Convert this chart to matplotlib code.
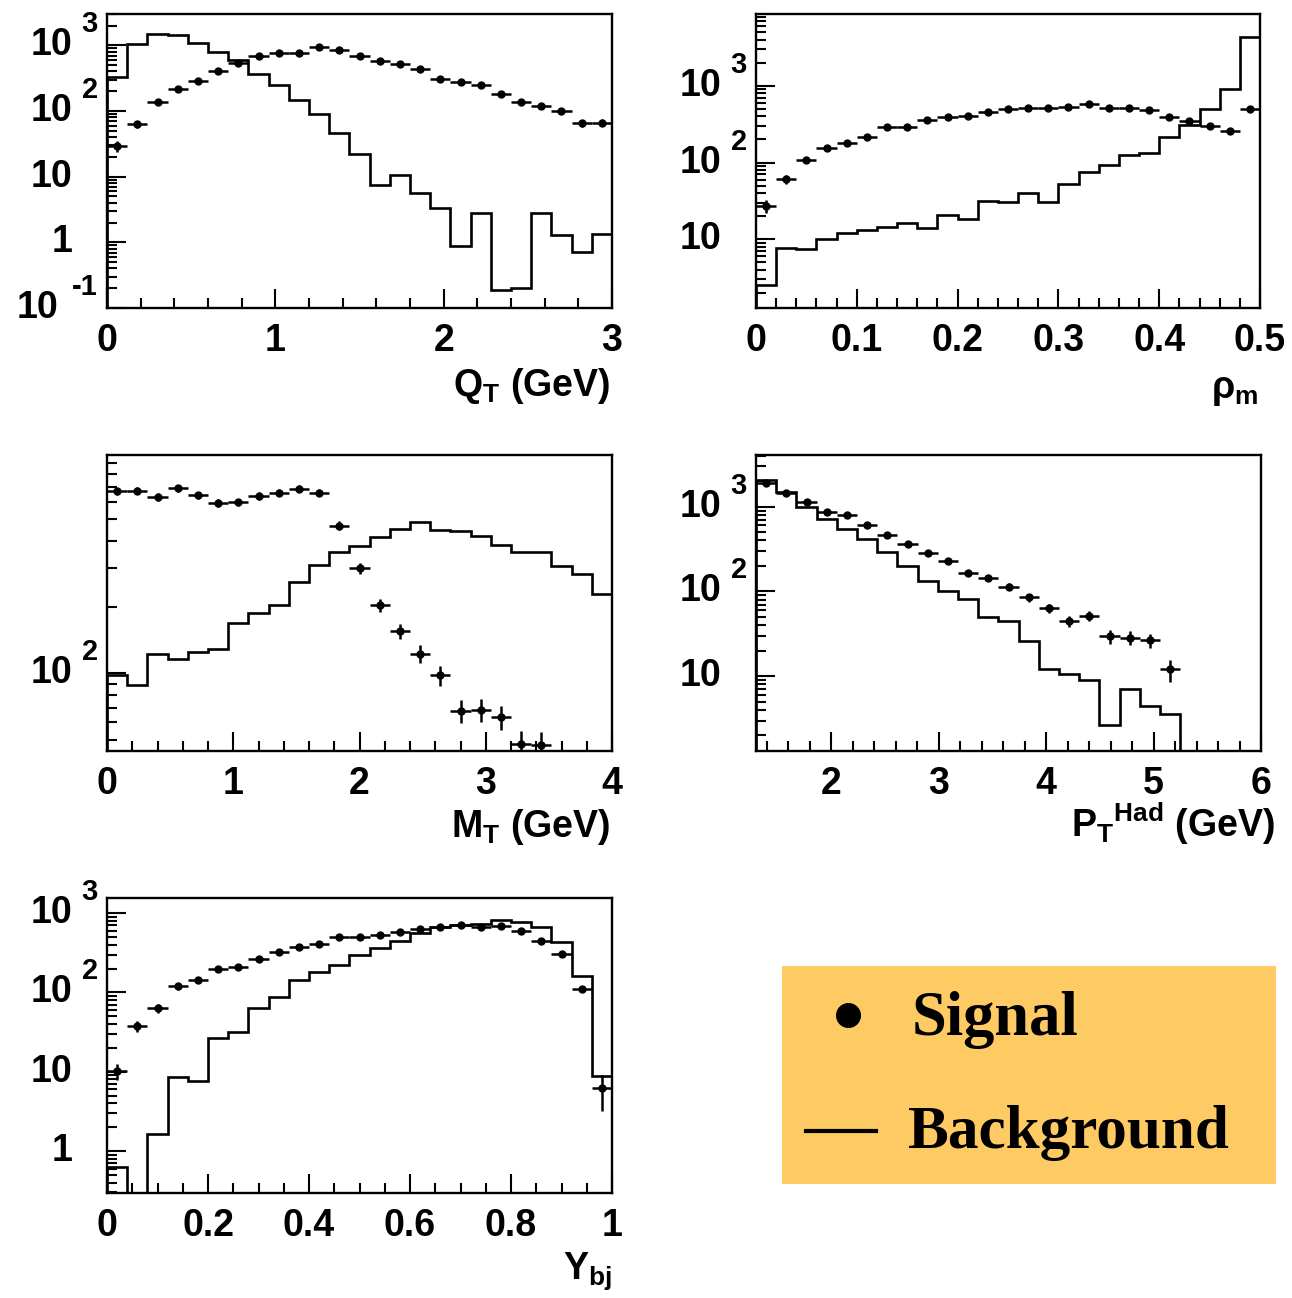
import matplotlib
matplotlib.use("Agg")
import matplotlib.pyplot as plt
import matplotlib.transforms as mtransforms
import numpy as np
from matplotlib.ticker import FixedLocator, LogLocator, MultipleLocator, NullFormatter

plt.rcParams["font.family"] = "Liberation Sans"
plt.rcParams["font.weight"] = "bold"
plt.rcParams["mathtext.fontset"] = "custom"
plt.rcParams["mathtext.rm"] = "Liberation Sans:bold"
plt.rcParams["mathtext.it"] = "Liberation Sans:bold"
plt.rcParams["mathtext.bf"] = "Liberation Sans:bold"

W, H = 1292, 1298
LABEL_SIZE = 27
EXP_SIZE = 21

# --- Q_T ---------------------------------------------------------------
qt_edges = np.linspace(0.0, 3.0, 26)
qt_bkg = [324, 1040, 1480, 1450, 1100, 805, 600, 363, 250, 146, 91, 47, 22.4,
          7.45, 10.6, 5.7, 3.36, 0.87, 2.75, 0.19, 0.2, 2.75, 1.3, 0.72, 1.35]
qt_sig = [29.3, 63, 137, 220, 288, 409, 535, 676, 751, 760, 948, 853, 691,
          568, 516, 443, 312, 281, 247, 184, 139, 119, 100, 65, 66.5]
qt_err = [5.4, 7.9, 11.7, 14.8, 17.0, 20.2, 23.1, 26.0, 27.4, 27.6, 30.8, 29.2,
          26.3, 23.8, 22.7, 21.0, 17.7, 16.8, 15.7, 13.6, 11.8, 10.9, 10.0, 8.1, 8.2]
qt_xticks = [0, 1, 2, 3]
qt_xlabels = ["0", "1", "2", "3"]

# --- rho_m -------------------------------------------------------------
rho_edges = np.linspace(0.0, 0.5, 26)
rho_bkg = [2.54, 7.6, 7.4, 10, 12, 13.2, 14.2, 16.2, 13.9, 20.7, 18.4, 31, 30.4,
           39.8, 30.4, 52, 76, 93, 124, 132, 218, 310, 496, 906, 4400]
rho_sig = [27, 61, 108, 154, 179, 218, 290, 295, 360, 390, 405, 454, 502, 512,
           512, 527, 582, 521, 512, 486, 390, 353, 301, 259, 496]
rho_err = [5.2, 7.8, 10.4, 12.4, 13.4, 14.8, 17.0, 17.2, 19.0, 19.7, 20.1, 21.3,
           22.4, 22.6, 22.6, 23.0, 24.1, 22.8, 22.6, 22.0, 19.7, 18.8, 17.3, 16.1, 22.3]
rho_xticks = [0, 0.1, 0.2, 0.3, 0.4, 0.5]
rho_xlabels = ["0", "0.1", "0.2", "0.3", "0.4", "0.5"]

# --- M_T ---------------------------------------------------------------
mt_edges = np.linspace(0.0, 4.0, 26)
mt_bkg = [98.3, 88.5, 122, 116, 125, 128.5, 170, 189, 204, 260, 310, 356, 379,
          415, 453, 489, 448, 445, 422, 383, 357, 357, 308, 282, 229]
mt_sig = [670, 676, 631, 693, 642, 593, 597, 640, 662, 689, 662, 469, 300, 204,
          156, 123, 98, 67.6, 68.3, 63.5, 48, 47.3]
mt_err = [25.9, 26.0, 25.1, 26.3, 25.3, 24.4, 24.4, 25.3, 25.7, 26.2, 25.7, 21.7,
          17.3, 14.3, 12.5, 11.1, 9.9, 8.2, 8.3, 8.0, 6.9, 6.9]
mt_xticks = [0, 1, 2, 3, 4]
mt_xlabels = ["0", "1", "2", "3", "4"]

# --- P_T hadron --------------------------------------------------------
pt_edges = np.linspace(1.3, 6.0, 26)
pt_bkg = [2065, 1476, 1000, 714, 539, 411, 289, 201, 132, 102, 81, 50, 44.6,
          25.9, 12.3, 10.5, 9.1, 2.64, 7.1, 4.47, 3.56, 0, 0, 0, 0]
pt_sig = [1888, 1435, 1145, 873, 798, 607, 463, 362, 281, 230, 163, 143, 114,
          85, 63, 45, 51.6, 29.6, 28.6, 26.6, 12]
pt_err = [43.5, 37.9, 33.8, 29.5, 28.2, 24.6, 21.5, 19.0, 16.8, 15.2, 12.8, 12.0,
          10.7, 9.2, 7.9, 6.7, 7.2, 5.4, 5.3, 5.2, 3.5]
pt_xticks = [2, 3, 4, 5, 6]
pt_xlabels = ["2", "3", "4", "5", "6"]

# --- Y_bj --------------------------------------------------------------
y_edges = np.linspace(0.0, 1.0, 26)
y_bkg = [0.63, 0, 1.66, 8.65, 7.7, 26.4, 31.2, 63.4, 87.3, 145, 179, 224, 300,
         364, 451, 553, 672, 698, 719, 815, 777, 672, 430, 162, 8.8]
y_sig = [10.2, 37.9, 63.3, 119, 142, 199, 209, 267, 321, 371, 405, 502, 502,
         527, 580, 636, 672, 698, 672, 685, 592, 442, 309, 111, 6.15]
y_err = [2.4, 6.2, 8.0, 10.9, 11.9, 14.1, 14.5, 16.3, 17.9, 19.3, 20.1, 22.4,
         22.4, 23.0, 24.1, 25.2, 25.9, 26.4, 25.9, 26.2, 24.3, 21.0, 17.6, 10.5, 3.0]
y_xticks = [0, 0.2, 0.4, 0.6, 0.8, 1.0]
y_xlabels = ["0", "0.2", "0.4", "0.6", "0.8", "1"]

fig = plt.figure(figsize=(W / 100, H / 100), dpi=100)


def px_rect(left, top, right, bottom):
    return [left / W, 1 - bottom / H, (right - left) / W, (bottom - top) / H]


def y_labels(ax, left_px, decades):
    """ROOT-style '10^n' labels next to the log y axis."""
    trans = mtransforms.blended_transform_factory(fig.transFigure, ax.transData)
    up = mtransforms.offset_copy(trans, fig=fig, y=21, units="dots")
    for d in decades:
        v = 10.0 ** d
        if d in (0, 1):
            ax.text((left_px - 35) / W, v, "1" if d == 0 else "10", transform=trans,
                    ha="right", va="center", fontsize=LABEL_SIZE, clip_on=False)
        else:
            exp = str(d)
            ax.text((left_px - 9) / W, v, exp, transform=up, ha="right",
                    va="center", fontsize=EXP_SIZE, clip_on=False)
            ax.text((left_px - 21 - 14 * len(exp)) / W, v, "10", transform=trans,
                    ha="right", va="center", fontsize=LABEL_SIZE, clip_on=False)


def panel(rect, edges, bkg, sig, err, ylim, xticks, xlabels, minor, decades):
    ax = fig.add_axes(px_rect(*rect))
    ax.set_yscale("log", nonpositive="clip")
    ax.stairs(bkg, edges, color="black", lw=1.9, baseline=1e-6)
    centers = 0.5 * (edges[:-1] + edges[1:])[:len(sig)]
    half = 0.5 * (edges[1] - edges[0])
    ax.errorbar(centers, sig, xerr=half, yerr=err, fmt="o", ms=5, color="black",
                elinewidth=1.8, capsize=0)
    ax.set_xlim(edges[0], edges[-1])
    ax.set_ylim(*ylim)
    ax.xaxis.set_major_locator(FixedLocator(xticks))
    ax.set_xticklabels(xlabels)
    ax.xaxis.set_minor_locator(MultipleLocator(minor))
    ax.yaxis.set_major_locator(LogLocator(base=10))
    ax.yaxis.set_minor_locator(LogLocator(base=10, subs=np.arange(2, 10)))
    ax.yaxis.set_major_formatter(NullFormatter())
    ax.yaxis.set_minor_formatter(NullFormatter())
    ax.tick_params(which="both", direction="in", top=False, right=False, width=1.5)
    ax.tick_params(which="major", length=14)
    ax.tick_params(which="minor", length=7)
    ax.tick_params(axis="x", which="major", labelsize=LABEL_SIZE, pad=11)
    for s in ax.spines.values():
        s.set_linewidth(1.7)
    y_labels(ax, rect[0], decades)
    return ax


panel((107, 14, 612, 308), qt_edges, qt_bkg, qt_sig, qt_err, (0.1, 3000),
      qt_xticks, qt_xlabels, 0.2, [-1, 0, 1, 2, 3])
panel((756, 14, 1260, 308), rho_edges, rho_bkg, rho_sig, rho_err, (1.26, 8700),
      rho_xticks, rho_xlabels, 0.02, [1, 2, 3])
panel((107, 455, 612, 751), mt_edges, mt_bkg, mt_sig, mt_err, (44.5, 980),
      mt_xticks, mt_xlabels, 0.2, [2])
panel((756, 455, 1261, 751), pt_edges, pt_bkg, pt_sig, pt_err, (1.31, 4070),
      pt_xticks, pt_xlabels, 0.2, [1, 2, 3])
panel((107, 898, 612, 1193), y_edges, y_bkg, y_sig, y_err, (0.295, 1550),
      y_xticks, y_xlabels, 0.05, [0, 1, 2, 3])

# axis titles, right-aligned under each frame
titles = [
    (610, 396, "Q$_{T}$ (GeV)"),
    (1258, 398, "ρ$_{m}$"),
    (610, 837, "M$_{T}$ (GeV)"),
    (1275, 837, "P$_{T}{}^{Had}$ (GeV)"),
    (612, 1279, "Y$_{bj}$"),
]
for x, y, t in titles:
    fig.text(x / W, 1 - y / H, t, ha="right", va="baseline", fontsize=LABEL_SIZE)

# legend box
lax = fig.add_axes(px_rect(782, 966, 1276, 1184))
lax.set_facecolor("#FDCA64")
lax.set_xlim(782, 1276)
lax.set_ylim(1184, 966)
lax.set_xticks([])
lax.set_yticks([])
for s in lax.spines.values():
    s.set_visible(False)
lax.plot([848], [1015], "o", color="black", ms=17)
lax.plot([806, 876], [1131, 1131], color="black", lw=3)
lax.text(912, 1035, "Signal", family="Liberation Serif", weight="bold",
         fontsize=45, va="baseline", ha="left")
lax.text(908, 1148, "Background", family="Liberation Serif", weight="bold",
         fontsize=44, va="baseline", ha="left")

fig.savefig("out.png", dpi=100)
